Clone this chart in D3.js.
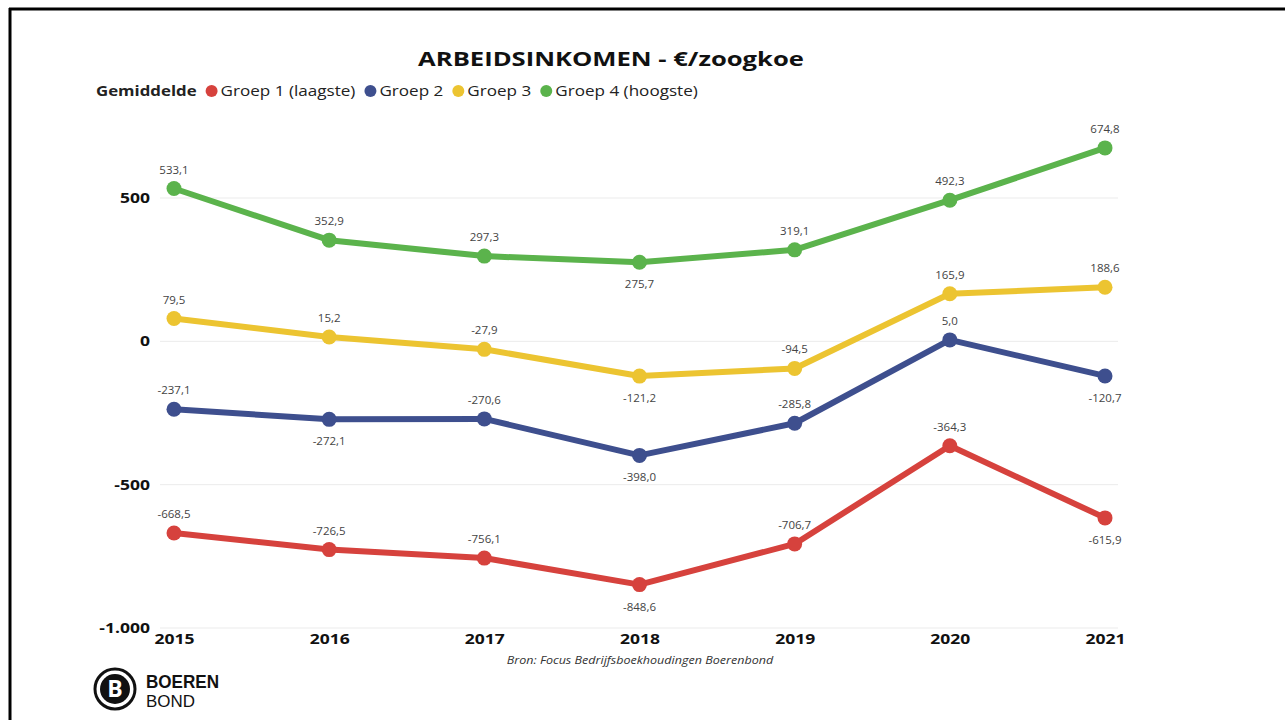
<!DOCTYPE html>
<html>
<head>
<meta charset="utf-8">
<script src="https://cdn.jsdelivr.net/npm/d3@7"></script>
<style>
  body { margin: 0; background: #fff; }
  svg { font-family: "Open Sans", "Noto Sans", sans-serif; }
</style>
</head>
<body>
<div id="chart"></div>
<script>
// data
const years = ["2015", "2016", "2017", "2018", "2019", "2020", "2021"];
const groep1 = [-668.5, -726.5, -756.1, -848.6, -706.7, -364.3, -615.9];
const groep2 = [-237.1, -272.1, -270.6, -398.0, -285.8, 5.0, -120.7];
const groep3 = [79.5, 15.2, -27.9, -121.2, -94.5, 165.9, 188.6];
const groep4 = [533.1, 352.9, 297.3, 275.7, 319.1, 492.3, 674.8];
const seriesNames = ["Groep 1 (laagste)", "Groep 2", "Groep 3", "Groep 4 (hoogste)"];
const seriesColors = ["#d6423d", "#3e4f8e", "#ecc431", "#5bb34c"];
const yTicks = [-1000, -500, 0, 500];

const series = [groep1, groep2, groep3, groep4].map((vals, i) => ({
  name: seriesNames[i], color: seriesColors[i], values: vals
}));

const W = 1285, H = 720;
const plotLeft = 160, plotRight = 1118;

const nl = d3.formatLocale({ decimal: ",", thousands: ".", grouping: [3], currency: ["€", ""], minus: "-" });
const fmtTick = nl.format(",.0f");
const fmtVal = nl.format(".1f");

// the source picture is a bit wider than tall, so widen texts a little
function stretch(sel, k) {
  sel.each(function () {
    const w = this.getComputedTextLength();
    this.setAttribute("textLength", w * k);
    this.setAttribute("lengthAdjust", "spacingAndGlyphs");
  });
}

const svg = d3.select("#chart").append("svg")
  .attr("width", W).attr("height", H);

// frame lines
svg.append("line").attr("x1", 9).attr("x2", W).attr("y1", 9).attr("y2", 9)
  .attr("stroke", "#000").attr("stroke-width", 3);
svg.append("line").attr("x1", 10).attr("x2", 10).attr("y1", 8).attr("y2", H)
  .attr("stroke", "#000").attr("stroke-width", 3);

const x = d3.scalePoint()
  .domain(years)
  .range([174, 1105]);

const y = d3.scaleLinear()
  .domain([-1000, 500])
  .range([628, 198]);

// gridlines
svg.append("g")
  .selectAll("line")
  .data(yTicks)
  .enter()
  .append("line")
  .attr("x1", plotLeft).attr("x2", plotRight)
  .attr("y1", d => y(d)).attr("y2", d => y(d))
  .attr("stroke", "#ebebeb").attr("stroke-width", 1);

// y axis
const yAxis = svg.append("g")
  .attr("transform", "translate(150,0)")
  .call(d3.axisLeft(y).tickValues(yTicks).tickSize(0).tickPadding(0).tickFormat(fmtTick));
yAxis.attr("font-family", "'Open Sans', sans-serif");
yAxis.select(".domain").remove();
yAxis.selectAll("text")
  .style("font-size", "14px").style("font-weight", "bold").attr("fill", "#111");
stretch(yAxis.selectAll("text"), 1.25);

// x axis
const xAxis = svg.append("g")
  .attr("transform", "translate(0,632)")
  .call(d3.axisBottom(x).tickSize(0).tickPadding(0));
xAxis.attr("font-family", "'Open Sans', sans-serif");
xAxis.select(".domain").remove();
xAxis.selectAll("text")
  .style("font-size", "14px").style("font-weight", "bold").attr("fill", "#111")
  .attr("dy", "0.85em");
stretch(xAxis.selectAll("text"), 1.25);

// lines
const line = d3.line()
  .x((d, i) => x(years[i]))
  .y(d => y(d));

series.forEach(s => {
  svg.append("path")
    .datum(s.values)
    .attr("fill", "none")
    .attr("stroke", s.color)
    .attr("stroke-width", 6)
    .attr("stroke-linejoin", "round")
    .attr("d", line);

  svg.append("g")
    .selectAll("circle")
    .data(s.values)
    .enter()
    .append("circle")
    .attr("cx", (d, i) => x(years[i]))
    .attr("cy", d => y(d))
    .attr("r", 7.5)
    .attr("fill", s.color);

  // labels go below a point that is lower than its neighbours
  svg.append("g")
    .selectAll("text")
    .data(s.values)
    .enter()
    .append("text")
    .attr("x", (d, i) => x(years[i]))
    .attr("y", (d, i) => {
      const prev = s.values[i - 1], next = s.values[i + 1];
      const below = prev !== undefined && d < prev && (next === undefined || d < next);
      return below ? y(d) + 26 : y(d) - 15;
    })
    .attr("text-anchor", "middle")
    .style("font-size", "11.5px")
    .attr("fill", "#444")
    .text(d => fmtVal(d));
});

// title
const title = svg.append("text")
  .attr("x", 611).attr("y", 66)
  .attr("text-anchor", "middle")
  .style("font-size", "20px").style("font-weight", "bold")
  .attr("fill", "#111")
  .text("ARBEIDSINKOMEN - €/zoogkoe");
stretch(title, 1.28);

// legend
const legend = svg.append("g").attr("transform", "translate(96,96)");
const legTitle = legend.append("text")
  .attr("x", 0).attr("y", 0)
  .style("font-size", "14px").style("font-weight", "bold").attr("fill", "#222")
  .text("Gemiddelde");
stretch(legTitle, 1.2);
let lx = +legTitle.attr("textLength");
series.forEach(s => {
  const cx = lx + 15;
  legend.append("circle").attr("cx", cx).attr("cy", -5).attr("r", 6).attr("fill", s.color);
  const t = legend.append("text")
    .attr("x", cx + 9).attr("y", 0)
    .style("font-size", "14px").attr("fill", "#222")
    .text(s.name);
  stretch(t, 1.22);
  lx = cx + 9 + +t.attr("textLength");
});

// source
const bron = svg.append("text")
  .attr("x", 640).attr("y", 664)
  .attr("text-anchor", "middle")
  .style("font-size", "11px").style("font-style", "italic")
  .attr("fill", "#333")
  .text("Bron: Focus Bedrijfsboekhoudingen Boerenbond");
stretch(bron, 1.14);

// logo
const logo = svg.append("g").attr("transform", "translate(115,689)");
logo.append("circle").attr("r", 20).attr("fill", "#fff").attr("stroke", "#111").attr("stroke-width", 3);
logo.append("circle").attr("r", 15).attr("fill", "#111");
logo.append("text")
  .attr("x", 0).attr("y", 8)
  .attr("text-anchor", "middle")
  .style("font-size", "23px").style("font-weight", "bold")
  .attr("fill", "#fff")
  .text("B");
svg.append("text")
  .attr("x", 146).attr("y", 688)
  .style("font-family", "'Liberation Sans Narrow', 'Liberation Sans', sans-serif")
  .style("font-size", "18px").style("font-weight", "bold")
  .attr("textLength", 73).attr("lengthAdjust", "spacingAndGlyphs")
  .attr("fill", "#111")
  .text("BOEREN");
svg.append("text")
  .attr("x", 146).attr("y", 707)
  .style("font-family", "'Liberation Sans Narrow', 'Liberation Sans', sans-serif")
  .style("font-size", "17px")
  .attr("textLength", 49).attr("lengthAdjust", "spacingAndGlyphs")
  .attr("fill", "#111")
  .text("BOND");
</script>
</body>
</html>
